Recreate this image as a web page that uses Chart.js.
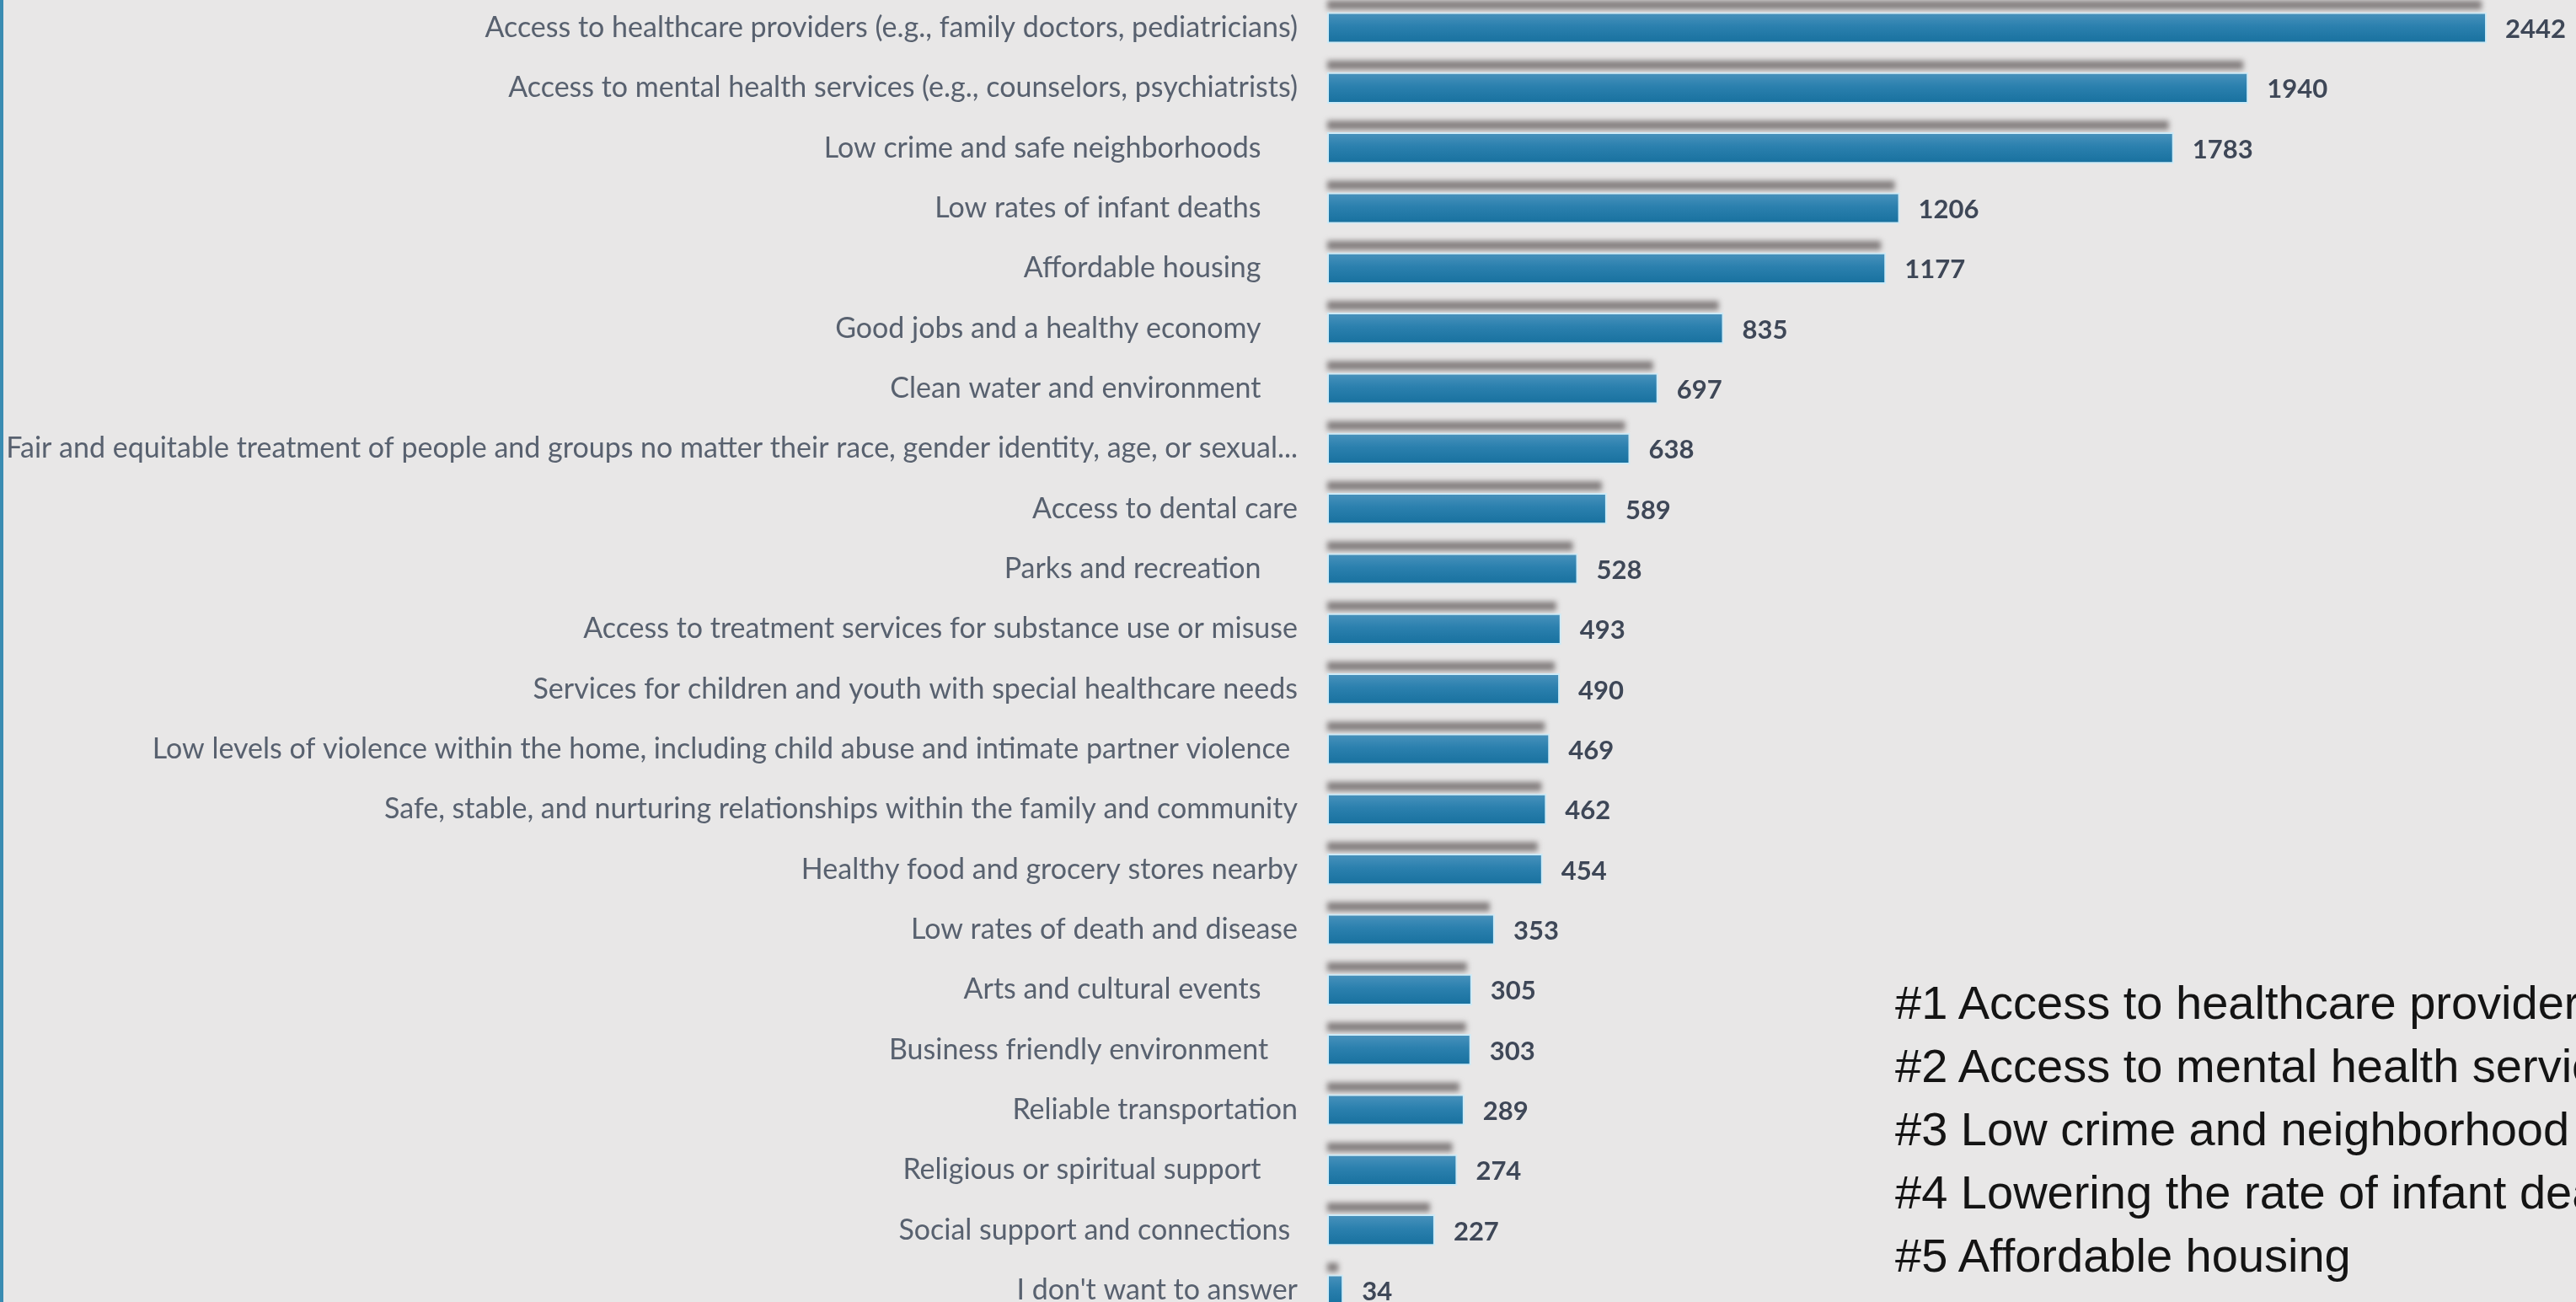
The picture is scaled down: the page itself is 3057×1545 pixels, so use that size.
<!DOCTYPE html>
<html>
<head>
<meta charset="utf-8">
<script src="https://cdn.jsdelivr.net/npm/chart.js@4"></script>
<style>
  html, body { margin: 0; padding: 0; width: 3057px; height: 1545px; overflow: hidden; background: #e8e7e7; }
  #wrap { position: absolute; left: 0; top: 0; width: 3057px; height: 1545px; }
  #edge { position: absolute; left: 0; top: 0; width: 4px; height: 1545px; background: #3a8cb2; }
  #notes { position: absolute; left: 2249px; top: 1152px; font-family: "Liberation Sans", Arial, sans-serif;
           font-size: 56px; line-height: 75px; color: #141414; white-space: nowrap; }
</style>
</head>
<body>
<div id="wrap"><canvas id="chart"></canvas></div>
<div id="edge"></div>
<div id="notes"></div>
<script>
// Survey answers, in the order they are listed (some answers carry trailing spaces in the source text)
const categories = [
  "Access to healthcare providers (e.g., family doctors, pediatricians)",
  "Access to mental health services (e.g., counselors, psychiatrists)",
  "Low crime and safe neighborhoods     ",
  "Low rates of infant deaths     ",
  "Affordable housing     ",
  "Good jobs and a healthy economy     ",
  "Clean water and environment     ",
  "Fair and equitable treatment of people and groups no matter their race, gender identity, age, or sexual...",
  "Access to dental care",
  "Parks and recreation     ",
  "Access to treatment services for substance use or misuse",
  "Services for children and youth with special healthcare needs",
  "Low levels of violence within the home, including child abuse and intimate partner violence ",
  "Safe, stable, and nurturing relationships within the family and community",
  "Healthy food and grocery stores nearby",
  "Low rates of death and disease",
  "Arts and cultural events     ",
  "Business friendly environment    ",
  "Reliable transportation",
  "Religious or spiritual support     ",
  "Social support and connections ",
  "I don't want to answer"
];

// Number of responses per answer
const responses = [2442, 1940, 1783, 1206, 1177, 835, 697, 638, 589, 528, 493, 490, 469, 462, 454, 353, 305, 303, 289, 274, 227, 34];

// Ranked summary shown beside the chart
const topPriorities = [
  "#1 Access to healthcare providers",
  "#2 Access to mental health services",
  "#3 Low crime and neighborhood safety",
  "#4 Lowering the rate of infant deaths",
  "#5 Affordable housing"
];

document.getElementById('notes').innerHTML =
  topPriorities.map(t => '<div>' + t.replace(/&/g, '&amp;').replace(/</g, '&lt;') + '</div>').join('');

const CATEGORY_PCT = 0.8;
const BAR_PCT = 0.65;
const BAR_FRACTION = CATEGORY_PCT * BAR_PCT;

// Soft grey band sitting just above every bar
const barShadow = {
  id: 'barShadow',
  beforeDatasetsDraw(chart) {
    const ctx = chart.ctx;
    chart.getDatasetMeta(0).data.forEach(bar => {
      const p = bar.getProps(['x', 'y', 'base', 'height'], true);
      const top = p.y - p.height / 2;
      const len = Math.max(0, p.x - p.base - 6);
      ctx.save();
      ctx.filter = 'blur(3px)';
      ctx.fillStyle = 'rgba(128,122,122,0.95)';
      ctx.fillRect(p.base, top - 14, len, 11);
      ctx.restore();
    });
  }
};

// Response count printed after the end of each bar
const barValues = {
  id: 'barValues',
  afterDatasetsDraw(chart) {
    const ctx = chart.ctx;
    const values = chart.data.datasets[0].data;
    ctx.save();
    ctx.font = 'bold 31px Lato, "Open Sans", sans-serif';
    ctx.fillStyle = '#3e4757';
    ctx.textAlign = 'left';
    ctx.textBaseline = 'middle';
    chart.getDatasetMeta(0).data.forEach((bar, i) => {
      const p = bar.getProps(['x', 'y'], true);
      ctx.fillText(String(values[i]), p.x + 22, p.y + 2);
    });
    ctx.restore();
  }
};

new Chart(document.getElementById('chart'), {
  type: 'bar',
  data: {
    labels: categories,
    datasets: [{
      data: responses,
      clip: false,
      categoryPercentage: CATEGORY_PCT,
      barPercentage: BAR_PCT,
      borderWidth: 2,
      borderColor: '#cdebf8',
      borderSkipped: false,
      backgroundColor(c) {
        const chart = c.chart;
        const ys = chart.scales && chart.scales.y;
        if (!ys || c.dataIndex === undefined) return '#2a7fae';
        const yc = ys.getPixelForValue(c.dataIndex);
        const pitch = Math.abs(ys.getPixelForValue(1) - ys.getPixelForValue(0));
        const h = pitch * BAR_FRACTION;
        if (!isFinite(yc) || !isFinite(h) || h <= 0) return '#2a7fae';
        const g = chart.ctx.createLinearGradient(0, yc - h / 2, 0, yc + h / 2);
        g.addColorStop(0, '#4a93bd');
        g.addColorStop(0.45, '#2b80ae');
        g.addColorStop(1, '#17709e');
        return g;
      }
    }]
  },
  options: {
    indexAxis: 'y',
    responsive: true,
    maintainAspectRatio: false,
    animation: false,
    layout: { padding: { top: 33, bottom: 14, left: 0, right: 0 } },
    plugins: { legend: { display: false }, tooltip: { enabled: false } },
    scales: {
      x: { display: false, min: 0, max: 2630 },
      y: {
        offset: false,
        min: 0,
        max: categories.length - 1,
        border: { display: false },
        grid: { display: false, drawTicks: false },
        ticks: {
          autoSkip: false,
          padding: 35,
          color: '#58616f',
          font: { family: 'Lato, "Open Sans", sans-serif', size: 34 }
        },
        afterFit(scale) {
          scale.width = 1575;
          scale.paddingTop = 0;
          scale.paddingBottom = 0;
        }
      }
    }
  },
  plugins: [barShadow, barValues]
});
</script>
</body>
</html>
